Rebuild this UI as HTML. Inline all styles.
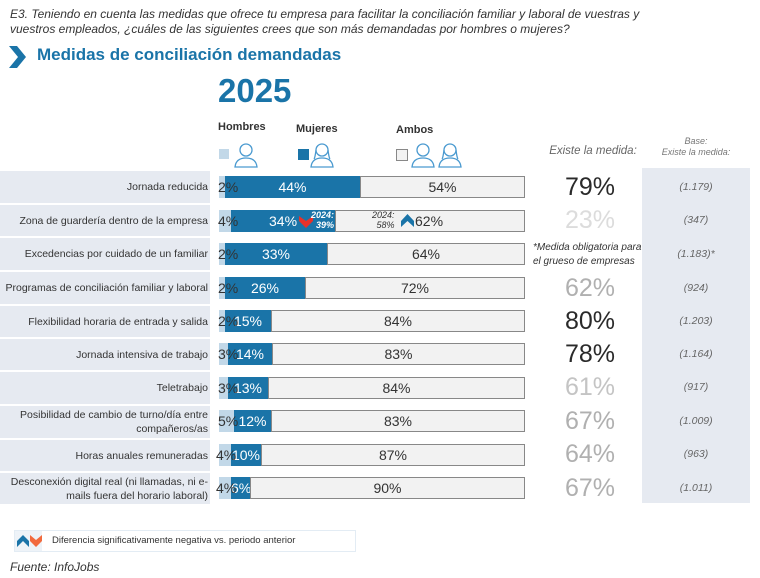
<!DOCTYPE html>
<html><head><meta charset="utf-8"><style>
body{margin:0;width:760px;height:578px;background:#fff;font-family:"Liberation Sans",sans-serif;position:relative;overflow:hidden}
.a{position:absolute}
.lab{position:absolute;left:0;width:210px;background:#e6eaf1;font-size:10.5px;color:#333;text-align:right;display:flex;align-items:center;justify-content:flex-end;line-height:14px}
.lab span{padding-right:2px}
.h{position:absolute;background:#c2d8e8;height:22px}
.m{position:absolute;background:#1a74a8;height:22px;color:#fff;font-size:14px;line-height:22px;text-align:center}
.b{position:absolute;background:#f2f2f2;height:20px;border:1px solid #888;font-size:14px;color:#333;line-height:20px;text-align:center;box-sizing:content-box}
.hp{position:absolute;font-size:14px;color:#333;line-height:22px}
.ex{position:absolute;left:545px;width:90px;text-align:center;font-size:25px;line-height:30px}
.bs{position:absolute;left:642px;width:108px;text-align:center;font-size:10.5px;font-style:italic;color:#666}
</style></head><body>
<div class="a" style="left:10px;top:7px;font-size:12px;font-style:italic;color:#333;line-height:15px">E3. Teniendo en cuenta las medidas que ofrece tu empresa para facilitar la conciliación familiar y laboral de vuestras y<br>vuestros empleados, ¿cuáles de las siguientes crees que son más demandadas por hombres o mujeres?</div>
<svg class="a" style="left:9px;top:46px" width="18" height="22"><polygon points="0,0 8,0 17,11 8,22 0,22 9,11" fill="#1a74a8"/></svg>
<div class="a" style="left:37px;top:45px;font-size:17px;font-weight:bold;color:#1a74a8">Medidas de conciliación demandadas</div>
<div class="a" style="left:218px;top:72px;font-size:33px;font-weight:bold;color:#1a74a8">2025</div>
<div class="a" style="left:218px;top:121px;font-size:11px;font-weight:bold;color:#333">Hombres</div>
<div class="a" style="left:296px;top:123px;font-size:11px;font-weight:bold;color:#333">Mujeres</div>
<div class="a" style="left:396px;top:124px;font-size:11px;font-weight:bold;color:#333">Ambos</div>
<div class="a" style="left:219px;top:149px;width:10px;height:10px;background:#c2d8e8"></div>
<div class="a" style="left:298px;top:149px;width:11px;height:11px;background:#1a74a8"></div>
<div class="a" style="left:396px;top:149px;width:10px;height:10px;background:#f2f2f2;border:1px solid #888"></div>
<svg class="a" style="left:234px;top:142px" width="24" height="26"><g fill="none" stroke="#4a9ad0" stroke-width="1.3"><circle cx="12" cy="8" r="6"/><path d="M1 25 Q2 16 12 16 Q22 16 23 25 Z"/></g></svg>
<svg class="a" style="left:310px;top:142px" width="24" height="26"><g fill="none" stroke="#4a9ad0" stroke-width="1.3"><circle cx="12" cy="8" r="6"/><path d="M6 8 Q5 16 4 17 M18 8 Q19 16 20 17"/><path d="M1 25 Q2 16 12 16 Q22 16 23 25 Z"/></g></svg>
<svg class="a" style="left:411px;top:142px" width="24" height="26"><g fill="none" stroke="#4a9ad0" stroke-width="1.3"><circle cx="12" cy="8" r="6"/><path d="M1 25 Q2 16 12 16 Q22 16 23 25 Z"/></g></svg>
<svg class="a" style="left:438px;top:142px" width="24" height="26"><g fill="none" stroke="#4a9ad0" stroke-width="1.3"><circle cx="12" cy="8" r="6"/><path d="M6 8 Q5 16 4 17 M18 8 Q19 16 20 17"/><path d="M1 25 Q2 16 12 16 Q22 16 23 25 Z"/></g></svg>
<div class="a" style="left:543px;top:145px;width:100px;text-align:center;font-size:11.5px;font-style:italic;color:#666">Existe la medida:</div>
<div class="a" style="left:642px;top:136px;width:108px;text-align:center;font-size:9px;font-style:italic;color:#777;line-height:11px">Base:<br>Existe la medida:</div>
<div class="a" style="left:642px;top:168px;width:108px;height:335px;background:#e6eaf1"></div>

<div class="lab" style="top:171px;height:32px"><span>Jornada reducida</span></div>
<div class="lab" style="top:205px;height:31px"><span>Zona de guardería dentro de la empresa</span></div>
<div class="lab" style="top:238px;height:32px"><span>Excedencias por cuidado de un familiar</span></div>
<div class="lab" style="top:272px;height:32px"><span>Programas de conciliación familiar y laboral</span></div>
<div class="lab" style="top:306px;height:31px"><span>Flexibilidad horaria de entrada y salida</span></div>
<div class="lab" style="top:339px;height:31px"><span>Jornada intensiva de trabajo</span></div>
<div class="lab" style="top:372px;height:32px"><span>Teletrabajo</span></div>
<div class="lab" style="top:406px;height:32px"><span>Posibilidad de cambio de turno/día entre<br>compañeros/as</span></div>
<div class="lab" style="top:440px;height:31px"><span>Horas anuales remuneradas</span></div>
<div class="lab" style="top:473px;height:31px"><span>Desconexión digital real (ni llamadas, ni e-<br>mails fuera del horario laboral)</span></div>

<div class="h" style="left:219px;top:176px;width:6px"></div><div class="m" style="left:225px;top:176px;width:135px">44%</div><div class="b" style="left:360px;top:176px;width:163px">54%</div><div class="hp" style="left:218px;top:176px">2%</div>
<div class="h" style="left:219px;top:210px;width:12px"></div><div class="m" style="left:231px;top:210px;width:104px;text-align:left"><span style="padding-left:38px">34%</span></div><div class="b" style="left:335px;top:210px;width:188px"></div><div class="hp" style="left:218px;top:210px">4%</div>
<svg class="a" style="left:299px;top:214px" width="14" height="14"><polygon points="0,2 7,7 14,2 14,7 7,14 0,7" fill="#e8312a"/></svg>
<div class="a" style="left:311px;top:210px;font-size:9px;font-style:italic;font-weight:bold;color:#fff;line-height:10px;text-align:right">2024:<br>39%</div>
<div class="a" style="left:372px;top:210px;font-size:9px;font-style:italic;color:#333;line-height:10px;text-align:right">2024:<br>58%</div>
<svg class="a" style="left:401px;top:214px" width="13" height="13"><polygon points="0,13 0,7 6.5,0 13,7 13,13 6.5,7" fill="#1a74a8"/></svg>
<div class="a" style="left:415px;top:210px;font-size:14px;color:#333;line-height:22px">62%</div>
<div class="h" style="left:219px;top:243px;width:6px"></div><div class="m" style="left:225px;top:243px;width:102px">33%</div><div class="b" style="left:327px;top:243px;width:196px">64%</div><div class="hp" style="left:218px;top:243px">2%</div>
<div class="h" style="left:219px;top:277px;width:6px"></div><div class="m" style="left:225px;top:277px;width:80px">26%</div><div class="b" style="left:305px;top:277px;width:218px">72%</div><div class="hp" style="left:218px;top:277px">2%</div>
<div class="h" style="left:219px;top:310px;width:6px"></div><div class="m" style="left:225px;top:310px;width:46px">15%</div><div class="b" style="left:271px;top:310px;width:252px">84%</div><div class="hp" style="left:218px;top:310px">2%</div>
<div class="h" style="left:219px;top:343px;width:9px"></div><div class="m" style="left:228px;top:343px;width:44px">14%</div><div class="b" style="left:272px;top:343px;width:251px">83%</div><div class="hp" style="left:218px;top:343px">3%</div>
<div class="h" style="left:219px;top:377px;width:9px"></div><div class="m" style="left:228px;top:377px;width:40px">13%</div><div class="b" style="left:268px;top:377px;width:255px">84%</div><div class="hp" style="left:218px;top:377px">3%</div>
<div class="h" style="left:219px;top:410px;width:15px"></div><div class="m" style="left:234px;top:410px;width:37px">12%</div><div class="b" style="left:271px;top:410px;width:252px">83%</div><div class="hp" style="left:218px;top:410px">5%</div>
<div class="h" style="left:219px;top:444px;width:12px"></div><div class="m" style="left:231px;top:444px;width:30px">10%</div><div class="b" style="left:261px;top:444px;width:262px">87%</div><div class="hp" style="left:216px;top:444px">4%</div>
<div class="h" style="left:219px;top:477px;width:12px"></div><div class="m" style="left:231px;top:477px;width:19px">6%</div><div class="b" style="left:250px;top:477px;width:273px">90%</div><div class="hp" style="left:216px;top:477px">4%</div>

<div class="ex" style="top:172px;color:#2a2a2a">79%</div>
<div class="ex" style="top:205px;color:#dcdcdc">23%</div>
<div class="a" style="left:533px;top:241px;font-size:10px;font-style:italic;color:#333;line-height:14px">*Medida obligatoria para<br>el grueso de empresas</div>
<div class="ex" style="top:273px;color:#b0b0b0">62%</div>
<div class="ex" style="top:306px;color:#2a2a2a">80%</div>
<div class="ex" style="top:339px;color:#2a2a2a">78%</div>
<div class="ex" style="top:372px;color:#c4c4c4">61%</div>
<div class="ex" style="top:406px;color:#b0b0b0">67%</div>
<div class="ex" style="top:439px;color:#b0b0b0">64%</div>
<div class="ex" style="top:473px;color:#b0b0b0">67%</div>

<div class="bs" style="top:181px">(1.179)</div>
<div class="bs" style="top:214px">(347)</div>
<div class="bs" style="top:248px">(1.183)*</div>
<div class="bs" style="top:282px">(924)</div>
<div class="bs" style="top:315px">(1.203)</div>
<div class="bs" style="top:348px">(1.164)</div>
<div class="bs" style="top:381px">(917)</div>
<div class="bs" style="top:415px">(1.009)</div>
<div class="bs" style="top:448px">(963)</div>
<div class="bs" style="top:482px">(1.011)</div>

<div class="a" style="left:14px;top:530px;width:340px;height:20px;border:1px solid #e3ecf4;background:#fff"></div>
<div class="a" style="left:15px;top:531px;width:27px;height:20px;background:#eef3f8"></div>
<svg class="a" style="left:17px;top:535px" width="26" height="12"><polygon points="0,12 0,6 6,0 12,6 12,12 6,6" fill="#1a74a8"/><polygon points="13,0 19,5 25,0 25,6 19,12 13,6" fill="#f26a3d"/></svg>
<div class="a" style="left:52px;top:535px;font-size:9.5px;color:#333">Diferencia significativamente negativa vs. periodo anterior</div>
<div class="a" style="left:10px;top:560px;font-size:12px;font-style:italic;color:#333">Fuente: InfoJobs</div>
</body></html>
